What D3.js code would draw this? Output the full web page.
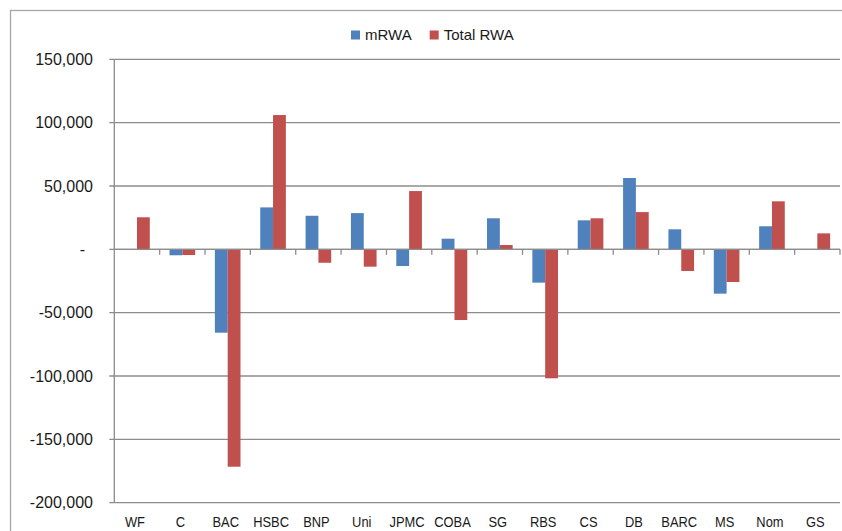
<!DOCTYPE html>
<html>
<head>
<meta charset="utf-8">
<script src="https://cdn.jsdelivr.net/npm/d3@7"></script>
<style>
  body { margin: 0; background: #fff; }
  svg text { font-family: "Liberation Sans", Arial, sans-serif; fill: #1a1a1a; }
</style>
</head>
<body>
<div id="chart"></div>
<script>
var banks = ["WF", "C", "BAC", "HSBC", "BNP", "Uni", "JPMC", "COBA", "SG", "RBS", "CS", "DB", "BARC", "MS", "Nom", "GS"];
var mRWA = [0, -4700, -65800, 33100, 26500, 28600, -13200, 8400, 24500, -26300, 22900, 56300, 15800, -35000, 18200, 0];
var totalRWA = [25300, -4500, -171600, 106000, -10600, -13700, 46000, -55800, 3400, -101800, 24500, 29400, -17100, -25800, 37900, 12600];
var seriesNames = ["mRWA", "Total RWA"];
var seriesColors = ["#4f81bd", "#c0504d"];
var yTicks = [150000, 100000, 50000, 0, -50000, -100000, -150000, -200000];

var width = 842,
    height = 531;

var margin = {left: 114.3, right: 2, top: 59.3, bottom: 28.3};

var svg = d3.select("#chart")
    .append("svg")
    .attr("width", width)
    .attr("height", height);

/* chart border */
svg.append("rect")
    .attr("x", 10.5).attr("y", 10.5)
    .attr("width", width + 20).attr("height", height + 20)
    .attr("fill", "none")
    .attr("stroke", "#a6a6a6")
    .attr("stroke-width", 1.3);

var x0 = d3.scaleBand()
    .domain(banks)
    .range([margin.left, width - margin.right])
    .paddingInner(0.435)
    .paddingOuter(0.2175);

var x1 = d3.scaleBand()
    .domain(seriesNames)
    .range([0, x0.bandwidth()]);

var y = d3.scaleLinear()
    .domain([-200000, 150000])
    .range([height - margin.bottom, margin.top]);

var fmt = d3.formatLocale({decimal: ".", thousands: ",", grouping: [3], currency: ["", ""], minus: "-"}).format(",");

/* gridlines */
svg.append("g")
    .selectAll("line")
    .data(yTicks)
    .enter().append("line")
        .attr("x1", margin.left - 5)
        .attr("x2", width - margin.right)
        .attr("y1", function(d) { return y(d); })
        .attr("y2", function(d) { return y(d); })
        .attr("stroke", "#8c8c8c")
        .attr("stroke-width", 1.3);

/* y labels */
svg.append("g")
    .selectAll("text")
    .data(yTicks)
    .enter().append("text")
        .attr("x", function(d) { return d === 0 ? 85 : 93; })
        .attr("y", function(d) { return y(d); })
        .attr("dy", "0.36em")
        .attr("text-anchor", "end")
        .style("font-size", "16px")
        .text(function(d) { return d === 0 ? "-" : fmt(d); });

/* y axis line */
svg.append("line")
    .attr("x1", margin.left).attr("x2", margin.left)
    .attr("y1", y(150000)).attr("y2", y(-200000))
    .attr("stroke", "#8c8c8c")
    .attr("stroke-width", 1.3);

/* bars */
var rows = banks.map(function(b, i) {
    return {bank: b, values: [mRWA[i], totalRWA[i]]};
});

var groups = svg.append("g")
    .selectAll("g")
    .data(rows)
    .enter().append("g")
        .attr("transform", function(d) { return "translate(" + x0(d.bank) + ",0)"; });

groups.selectAll("rect")
    .data(function(d) { return d.values.map(function(v, j) { return {key: seriesNames[j], value: v, color: seriesColors[j]}; }); })
    .enter().append("rect")
        .attr("x", function(d) { return x1(d.key); })
        .attr("width", x1.bandwidth())
        .attr("y", function(d) { return Math.min(y(d.value), y(0)); })
        .attr("height", function(d) { return Math.abs(y(d.value) - y(0)); })
        .attr("fill", function(d) { return d.color; });

/* category axis on zero line */
var edge = x0.step() * x0.paddingInner() / 2;
svg.append("line")
    .attr("x1", margin.left).attr("x2", width - margin.right)
    .attr("y1", y(0)).attr("y2", y(0))
    .attr("stroke", "#8c8c8c")
    .attr("stroke-width", 1.3);

svg.append("g")
    .selectAll("line")
    .data(banks)
    .enter().append("line")
        .attr("x1", function(d) { return x0(d) + x0.bandwidth() + edge; })
        .attr("x2", function(d) { return x0(d) + x0.bandwidth() + edge; })
        .attr("y1", y(0))
        .attr("y2", y(0) + 5.5)
        .attr("stroke", "#8c8c8c")
        .attr("stroke-width", 1.3);

/* x labels, condensed like the original */
svg.append("g")
    .selectAll("text")
    .data(banks)
    .enter().append("text")
        .attr("transform", function(d) {
            return "translate(" + (x0(d) + x0.bandwidth() / 2 - 2) + ",527) scale(0.86,1)";
        })
        .attr("text-anchor", "middle")
        .style("font-size", "15px")
        .text(function(d) { return d; });

/* legend */
var legend = svg.append("g");
var lx = 351;
seriesNames.forEach(function(name, i) {
    legend.append("rect")
        .attr("x", lx).attr("y", 30.5)
        .attr("width", 9).attr("height", 9)
        .attr("fill", seriesColors[i]);
    var t = legend.append("text")
        .attr("x", lx + 14)
        .attr("y", 39.5)
        .style("font-size", "15px")
        .text(name);
    lx += 14 + t.node().getComputedTextLength() + 18;
});
</script>
</body>
</html>
